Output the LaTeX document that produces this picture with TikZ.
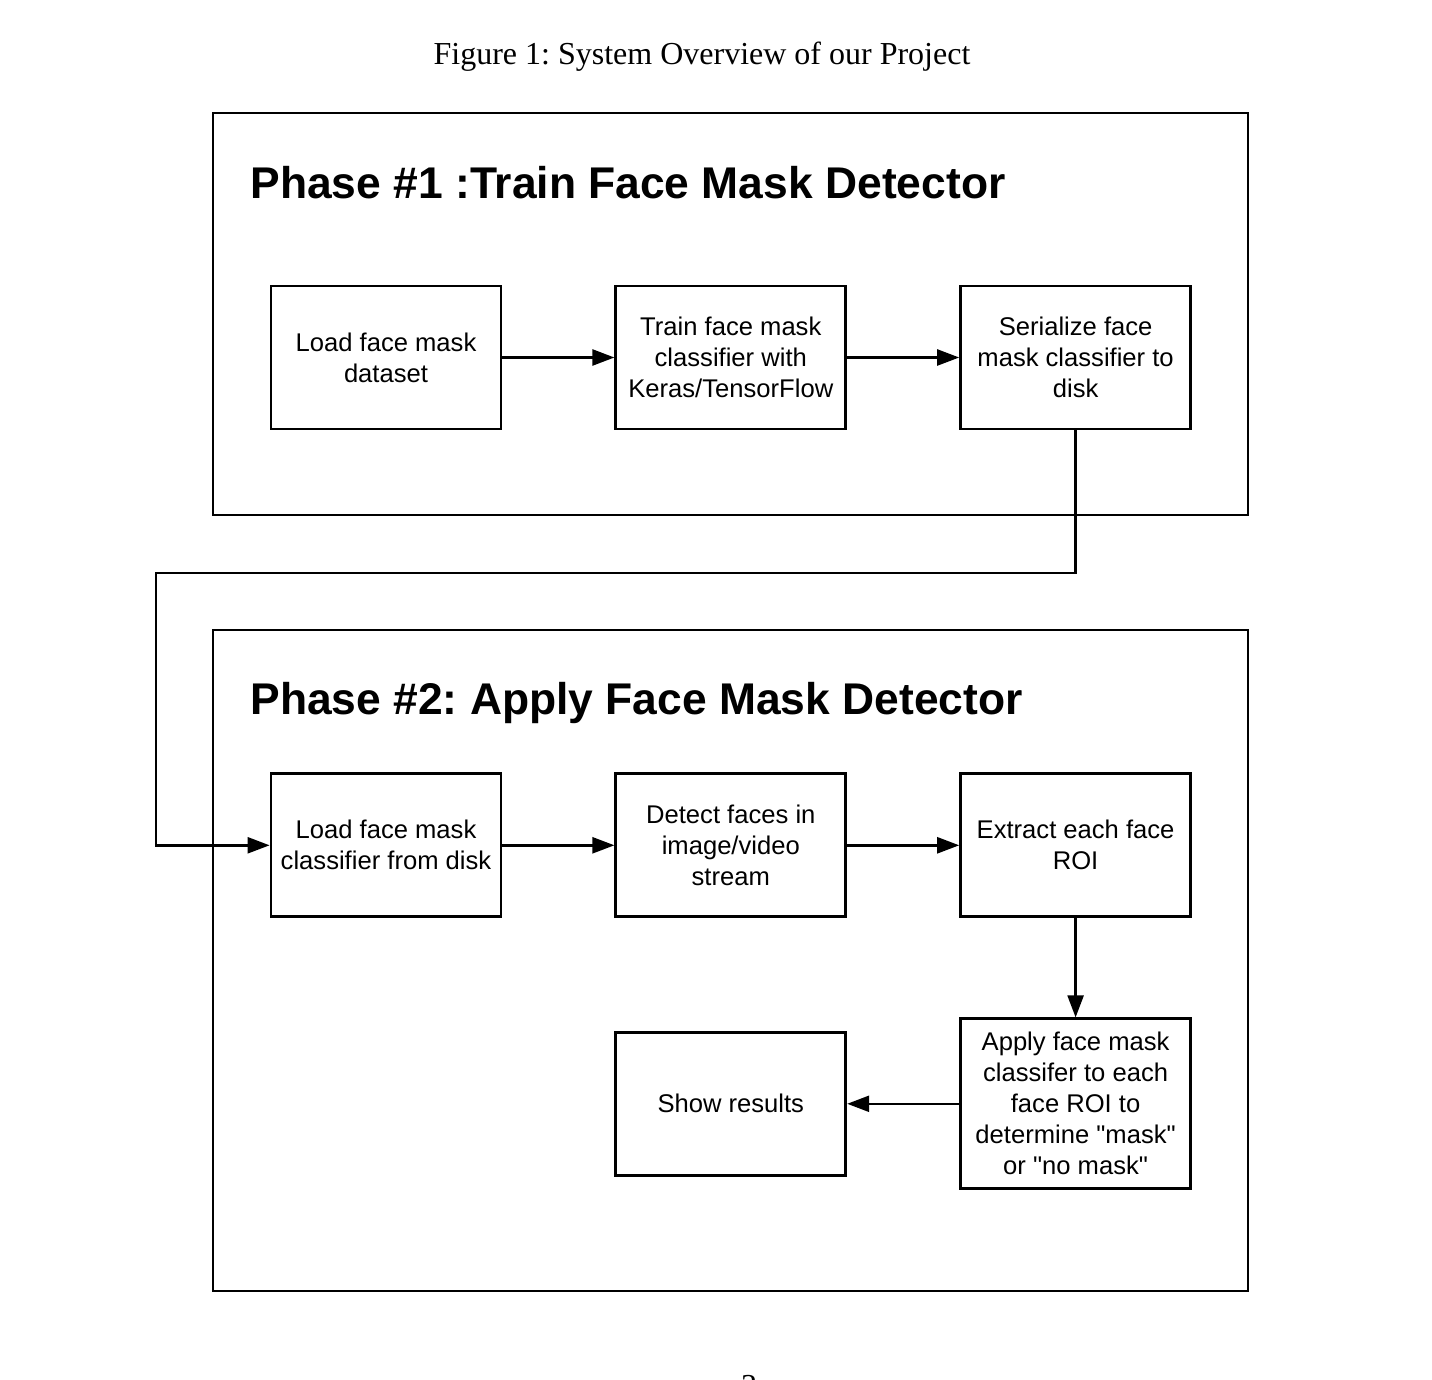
\documentclass[tikz,border=0pt]{standalone}
\usepackage{fontspec}
\setmainfont{Liberation Serif}
\setsansfont{Liberation Sans}
\usetikzlibrary{positioning, arrows.meta}
\frenchspacing

\begin{document}
\begin{tikzpicture}[x=0.5pt,y=-0.5pt,
  node distance=56pt,
  box/.style={draw, line width=1.4pt, minimum width=115pt, minimum height=71.5pt,
    align=center, font=\sffamily\fontsize{12.8}{15.5}\selectfont, inner sep=2pt},
  frame/.style={draw, line width=1.4pt, inner sep=0pt},
  phase/.style={anchor=base west, font=\sffamily\bfseries\fontsize{22.2}{26}\selectfont, inner sep=0pt},
  arrow/.style={line width=1.2pt, -{Triangle[length=11pt,width=8pt]}}]

  \useasboundingbox (0,0) rectangle (1432,1380);

  \node[anchor=base, font=\fontsize{16}{19}\selectfont, inner sep=0pt] (caption) at (702,65)
    {Figure 1: System Overview of our Project};

  %==================================================

  \node[frame, minimum width=517.5pt, minimum height=201pt] (phase1) at (730.5,314) {};
  \node[phase] (phase1_title) at (250,199) {Phase \#1 :Train Face Mask Detector};

  \node[box] (load_ds) at (386,357.5) {Load face mask\\dataset};
  \node[box, right=of load_ds] (train_clf) {Train face mask\\classifier with\\Keras/TensorFlow};
  \node[box, right=of train_clf] (save_clf) {Serialize face\\mask classifier to\\disk};

  %==================================================

  \node[frame, minimum width=517.5pt, minimum height=330.5pt] (phase2) at (730.5,960.5) {};
  \node[phase] (phase2_title) at (250,714) {Phase \#2: Apply Face Mask Detector};

  \node[box, below=171pt of load_ds] (load_clf) {Load face mask\\classifier from disk};
  \node[box, right=of load_clf] (detect) {Detect faces in\\image/video\\stream};
  \node[box, right=of detect] (extract) {Extract each face\\ROI};
  \node[box, minimum height=85pt, below=49.6pt of extract] (apply_clf)
    {Apply face mask\\classifer to each\\face ROI to\\determine \textquotedbl mask\textquotedbl\\or \textquotedbl no mask\textquotedbl};
  \node[box, left=of apply_clf] (show) {Show results};

  \node[anchor=base, font=\fontsize{16}{19}\selectfont, inner sep=0pt] (page_no) at (749,1396) {3};

  %==================================================

  \coordinate (bend) at (156,573);

  \draw[arrow] (load_ds) -- (train_clf);
  \draw[arrow] (train_clf) -- (save_clf);
  \draw[arrow] (save_clf.south) |- (bend) |- (load_clf.west);
  \draw[arrow] (load_clf) -- (detect);
  \draw[arrow] (detect) -- (extract);
  \draw[arrow] (extract) -- (apply_clf);
  \draw[arrow] (apply_clf) -- (show);

\end{tikzpicture}
\end{document}
